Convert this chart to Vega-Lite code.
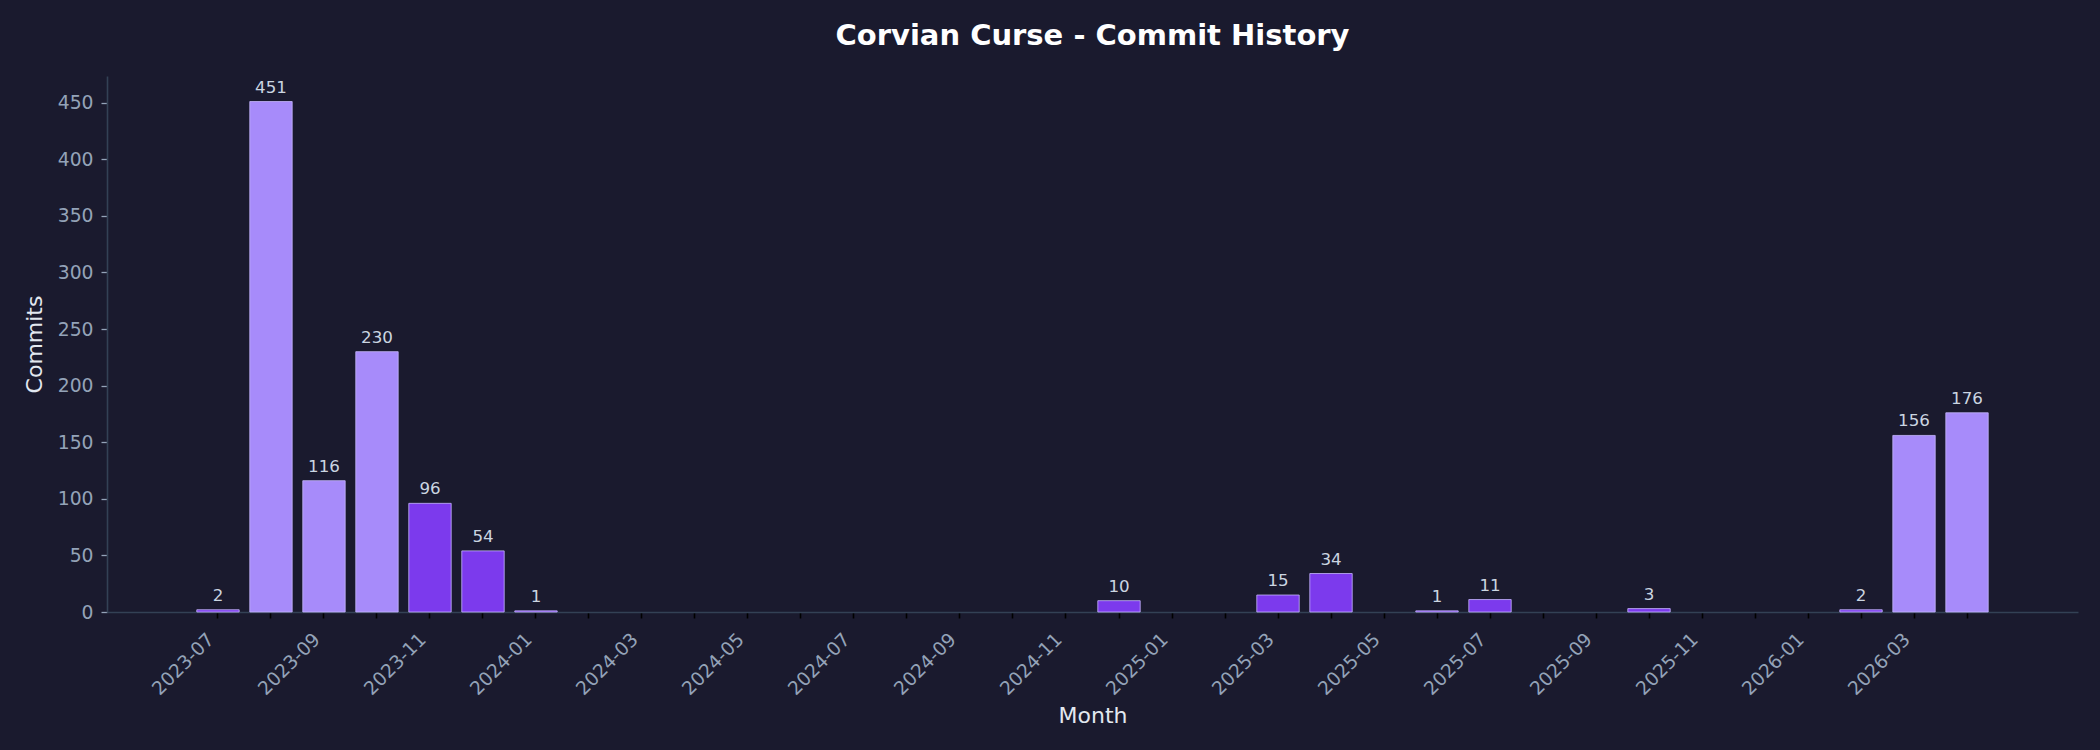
{
  "$schema": "https://vega.github.io/schema/vega-lite/v6.json",
  "autosize": "none",
  "width": 1971,
  "height": 536,
  "padding": {"left": 107, "top": 76, "right": 22, "bottom": 138},
  "background": "#1a1a2e",
  "title": {
    "text": "Corvian Curse - Commit History",
    "font": "DejaVu Sans",
    "fontSize": 29,
    "fontWeight": "bold",
    "color": "#ffffff",
    "anchor": "middle",
    "frame": "group",
    "baseline": "alphabetic",
    "offset": 2
  },
  "config": {"view": {"stroke": null}, "axis": {"grid": false}},
  "data": {
    "values": [
      {"month": "2023-07", "commits": 2},
      {"month": "2023-08", "commits": 451},
      {"month": "2023-09", "commits": 116},
      {"month": "2023-10", "commits": 230},
      {"month": "2023-11", "commits": 96},
      {"month": "2023-12", "commits": 54},
      {"month": "2024-01", "commits": 1},
      {"month": "2024-12", "commits": 10},
      {"month": "2025-03", "commits": 15},
      {"month": "2025-04", "commits": 34},
      {"month": "2025-06", "commits": 1},
      {"month": "2025-07", "commits": 11},
      {"month": "2025-10", "commits": 3},
      {"month": "2026-02", "commits": 2},
      {"month": "2026-03", "commits": 156},
      {"month": "2026-04", "commits": 176}
    ]
  },
  "encoding": {
    "x": {
      "field": "month",
      "type": "ordinal",
      "scale": {
        "type": "band",
        "domain": [
          "2023-06",
          "2023-07", "2023-08", "2023-09", "2023-10", "2023-11", "2023-12",
          "2024-01", "2024-02", "2024-03", "2024-04", "2024-05", "2024-06",
          "2024-07", "2024-08", "2024-09", "2024-10", "2024-11", "2024-12",
          "2025-01", "2025-02", "2025-03", "2025-04", "2025-05", "2025-06",
          "2025-07", "2025-08", "2025-09", "2025-10", "2025-11", "2025-12",
          "2026-01", "2026-02", "2026-03", "2026-04",
          "2026-05"
        ],
        "paddingInner": 0.2,
        "paddingOuter": 0.694
      },
      "axis": {
        "values": [
          "2023-07", "2023-08", "2023-09", "2023-10", "2023-11", "2023-12",
          "2024-01", "2024-02", "2024-03", "2024-04", "2024-05", "2024-06",
          "2024-07", "2024-08", "2024-09", "2024-10", "2024-11", "2024-12",
          "2025-01", "2025-02", "2025-03", "2025-04", "2025-05", "2025-06",
          "2025-07", "2025-08", "2025-09", "2025-10", "2025-11", "2025-12",
          "2026-01", "2026-02", "2026-03", "2026-04"
        ],
        "labelExpr": "toNumber(slice(datum.label, 5)) % 2 == 1 ? datum.label : ''",
        "labelAngle": -45,
        "labelAlign": "right",
        "labelBaseline": "middle",
        "labelOffset": -7,
        "labelPadding": 18,
        "labelOverlap": false,
        "labelFlush": false,
        "labelColor": "#94a3b8",
        "labelFont": "DejaVu Sans",
        "labelFontSize": 18.75,
        "tickColor": "#000000",
        "tickSize": 6,
        "tickWidth": 1.6,
        "domainColor": "#334155",
        "domainWidth": 1.6,
        "title": "Month",
        "titleFont": "DejaVu Sans",
        "titleFontSize": 22,
        "titleFontWeight": "normal",
        "titleColor": "#e2e8f0",
        "titleX": 985.5,
        "titleY": 110,
        "titleAlign": "center",
        "titleBaseline": "alphabetic"
      }
    },
    "y": {
      "field": "commits",
      "type": "quantitative",
      "scale": {"domain": [0, 473.55], "nice": false, "zero": true},
      "axis": {
        "values": [0, 50, 100, 150, 200, 250, 300, 350, 400, 450],
        "labelColor": "#94a3b8",
        "labelFont": "DejaVu Sans",
        "labelFontSize": 18.75,
        "labelPadding": 8,
        "tickColor": "#94a3b8",
        "tickSize": 6,
        "tickWidth": 1.3,
        "domainColor": "#334155",
        "domainWidth": 1.6,
        "title": "Commits",
        "titleFont": "DejaVu Sans",
        "titleFontSize": 22,
        "titleFontWeight": "normal",
        "titleColor": "#e2e8f0",
        "titleAngle": -90,
        "titleX": -66,
        "titleY": 268,
        "titleAlign": "center",
        "titleBaseline": "alphabetic"
      }
    }
  },
  "layer": [
    {
      "mark": {"type": "bar", "stroke": "#c4b5fd", "strokeWidth": 1, "strokeOpacity": 0.8},
      "encoding": {
        "color": {
          "condition": {"test": "datum.commits > 100", "value": "#a78bfa"},
          "value": "#7c3aed"
        }
      }
    },
    {
      "mark": {
        "type": "text",
        "dy": -9,
        "baseline": "alphabetic",
        "align": "center",
        "font": "DejaVu Sans",
        "fontSize": 16.7,
        "color": "#cbd5e1"
      },
      "encoding": {"text": {"field": "commits", "type": "quantitative"}}
    }
  ]
}
